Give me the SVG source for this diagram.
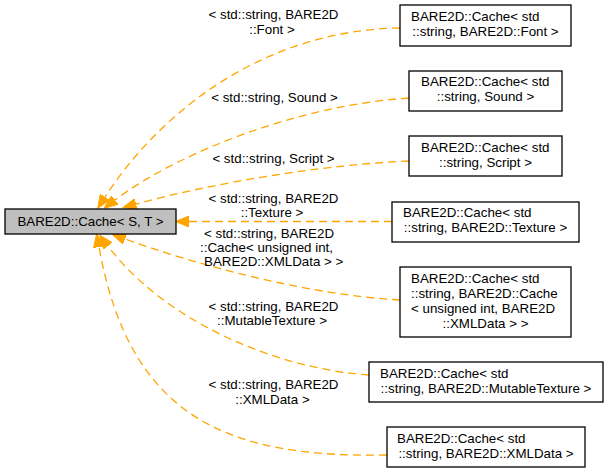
<svg xmlns="http://www.w3.org/2000/svg" width="608" height="473" viewBox="0 0 608 473">
<style>
text{font-family:"Liberation Sans",Arial,sans-serif;font-size:13.33px;fill:#000}
.m{text-anchor:middle}
.box{fill:#fff;stroke:#000;stroke-width:1.3}
.main{fill:#bfbfbf;stroke:#000;stroke-width:1.3}
.e{fill:none;stroke:#ffa500;stroke-width:1.3;stroke-dasharray:8,5;marker-end:url(#ah)}
</style>
<defs>
<marker id="ah" markerUnits="userSpaceOnUse" markerWidth="14" markerHeight="11" viewBox="0 0 14 11" refX="0" refY="5.5" orient="auto">
<path d="M0,0 L13.5,5.5 L0,11 z" fill="#ffa500" stroke="#ffa500" stroke-width="1"/>
</marker>
</defs>
<rect width="608" height="473" fill="#fff"/>
<g id="connectors">
<path class="e" d="M400,28 C270,30 165,105 105,197"/>
<path class="e" d="M409,98 C300,105 179,152 115,200"/>
<path class="e" d="M409,161 C320,165 213,183 136,204"/>
<path class="e" d="M392,221.5 L189,221.5"/>
<path class="e" d="M400,300 C310,295 200,266 125,239"/>
<path class="e" d="M369,375 C270,368 162,318 108,246"/>
<path class="e" d="M387,455 C230,458 130,420 99,247"/>
<text class="m" x="273.5" y="19">&lt; std::string, BARE2D</text>
<text class="m" x="272" y="34">::Font &gt;</text>
<text class="m" x="274.5" y="102">&lt; std::string, Sound &gt;</text>
<text class="m" x="273.5" y="163">&lt; std::string, Script &gt;</text>
<text class="m" x="273.5" y="203">&lt; std::string, BARE2D</text>
<text class="m" x="272" y="217">::Texture &gt;</text>
<text x="204" y="238">&lt; std::string, BARE2D</text>
<text x="200" y="252">::Cache&lt; unsigned int,</text>
<text x="204" y="266">BARE2D::XMLData &gt; &gt;</text>
<text class="m" x="273.5" y="311">&lt; std::string, BARE2D</text>
<text class="m" x="272" y="325">::MutableTexture &gt;</text>
<text class="m" x="273.5" y="389">&lt; std::string, BARE2D</text>
<text class="m" x="272.5" y="404">::XMLData &gt;</text>
</g>
<g id="node-main">
<rect class="main" x="5" y="209" width="171" height="25"/>
<text class="m" x="90.5" y="226">BARE2D::Cache&lt; S, T &gt;</text>
</g>
<g id="node-font">
<rect class="box" x="400" y="5" width="171" height="41"/>
<text x="411" y="21">BARE2D::Cache&lt; std</text>
<text class="m" x="485.5" y="36">::string, BARE2D::Font &gt;</text>
</g>
<g id="node-sound">
<rect class="box" x="409" y="71" width="153" height="40"/>
<text x="421" y="86">BARE2D::Cache&lt; std</text>
<text class="m" x="485.5" y="101">::string, Sound &gt;</text>
</g>
<g id="node-script">
<rect class="box" x="409" y="136" width="153" height="40"/>
<text x="421" y="151.5">BARE2D::Cache&lt; std</text>
<text class="m" x="485.5" y="166.5">::string, Script &gt;</text>
</g>
<g id="node-texture">
<rect class="box" x="392" y="202" width="187" height="40"/>
<text x="403" y="217">BARE2D::Cache&lt; std</text>
<text class="m" x="485.5" y="232">::string, BARE2D::Texture &gt;</text>
</g>
<g id="node-cache-xmldata">
<rect class="box" x="400" y="267" width="171" height="70"/>
<text x="411" y="283">BARE2D::Cache&lt; std</text>
<text x="411" y="298">::string, BARE2D::Cache</text>
<text x="411" y="313">&lt; unsigned int, BARE2D</text>
<text class="m" x="485.5" y="328">::XMLData &gt; &gt;</text>
</g>
<g id="node-mutabletexture">
<rect class="box" x="369" y="362" width="234" height="40"/>
<text x="380" y="378">BARE2D::Cache&lt; std</text>
<text class="m" x="486" y="393">::string, BARE2D::MutableTexture &gt;</text>
</g>
<g id="node-xmldata">
<rect class="box" x="387" y="427" width="198" height="40"/>
<text x="397" y="443">BARE2D::Cache&lt; std</text>
<text class="m" x="486" y="458">::string, BARE2D::XMLData &gt;</text>
</g>
</svg>
